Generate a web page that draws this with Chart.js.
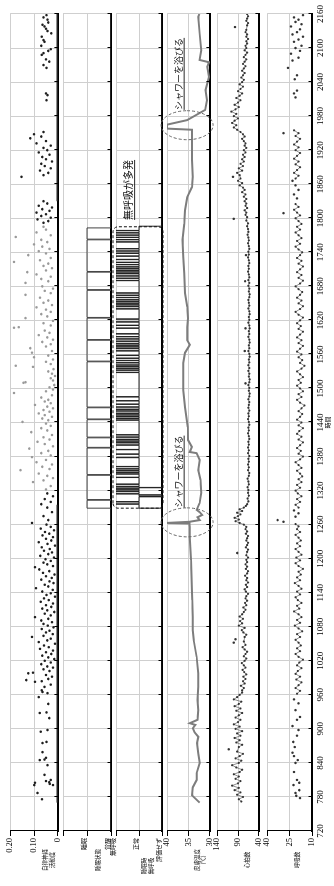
<!DOCTYPE html>
<html>
<head>
<meta charset="utf-8">
<script src="https://cdn.jsdelivr.net/npm/chart.js@4.4.1/dist/chart.umd.min.js"></script>
<style>
html,body{margin:0;padding:0;background:#fff;width:334px;height:886px;overflow:hidden}
#wrap{position:absolute;left:0;top:886px;width:886px;height:334px;transform-origin:0 0;transform:rotate(-90deg)}
#wrap canvas{position:absolute;left:0}
</style>
</head>
<body>
<div id="wrap"></div>
<script>
/* ------- DATA ------- */
const timeTicks = [720,780,840,900,960,1020,1080,1140,1200,1260,1320,1380,1440,1500,1560,1620,1680,1740,1800,1860,1920,1980,2040,2100,2160];

const ansTicks = [0, 0.05, 0.1, 0.15, 0.2];
const ansLabels = ["0", "", "0.10", "", "0.20"];
const ansZero = [[770,0],[1295,0],[1296,null],[1830,0],[2160,0]];
const ansAwake = [
[776,0.067],[787,0.085],[801,0.099],[803,0.034],[806,0.036],[801,0.02],[805,0.096],[808,0.05],[810,0.03],[819,0.056],[836,0.044],[845,0.076],[846,0.056],[849,0.05],[859,0.064],[875,0.064],[877,0.048],[895,0.072],[898,0.044],[919,0.036],[928,0.076],[929,0.048],[944,0.04],
[956,0.08],[963,0.044],[965,0.064],[968,0.068],[974,0.056],[978,0.03],[983,0.096],[984,0.068],[986,0.132],[988,0.04],[992,0.025],[995,0.05],[998,0.124],[999,0.104],[1002,0.035],[1005,0.06],[1008,0.02],[1010,0.045],[1014,0.07],[1017,0.03],[1020,0.055],[1023,0.015],[1026,0.04],[1029,0.065],[1032,0.028],[1035,0.05],[1038,0.02],[1041,0.075],[1044,0.038],[1047,0.058],[1050,0.012],[1053,0.08],[1056,0.045],[1059,0.03],[1062,0.108],[1064,0.06],[1067,0.022],[1070,0.05],[1073,0.035],[1076,0.068],[1079,0.018],[1082,0.042],[1085,0.06],[1088,0.025],[1091,0.07],[1094,0.04],[1097,0.096],[1100,0.03],[1103,0.055],[1106,0.015],[1109,0.045],[1112,0.065],[1115,0.028],[1118,0.05],[1121,0.02],[1124,0.072],[1127,0.038],[1130,0.058],[1133,0.012],[1136,0.048],[1139,0.03],[1142,0.066],[1145,0.022],[1148,0.092],[1151,0.04],[1154,0.055],[1157,0.018],[1160,0.035],[1163,0.07],[1166,0.026],[1169,0.05],[1172,0.014],[1175,0.062],[1178,0.036],[1181,0.078],[1185,0.096],[1187,0.02],[1190,0.045],[1193,0.06],[1196,0.03],[1199,0.052],[1202,0.016],[1205,0.074],[1208,0.04],[1211,0.025],[1214,0.058],[1217,0.034],[1220,0.068],[1223,0.012],[1226,0.044],[1229,0.08],[1232,0.028],[1235,0.05],[1238,0.02],[1241,0.064],[1244,0.036],[1247,0.054],[1250,0.016],[1253,0.072],[1256,0.03],[1260,0.048],[1263,0.108],[1268,0.04],[1275,0.06],[1282,0.025],[1290,0.045],[1296,0.07],[1300,0.03],[1305,0.055],[1310,0.02],[1315,0.045],
[1792,0.06],[1795,0.04],[1798,0.085],[1801,0.03],[1804,0.07],[1807,0.05],[1810,0.09],[1813,0.035],[1816,0.065],[1819,0.025],[1822,0.08],[1826,0.045],[1830,0.06],[1873,0.152],[1876,0.06],[1880,0.04],[1884,0.075],[1888,0.03],[1892,0.055],[1896,0.07],[1900,0.025],[1904,0.05],[1908,0.065],[1912,0.035],[1916,0.08],[1920,0.045],[1924,0.06],[1928,0.03],[1932,0.09],[1936,0.05],[1941,0.116],[1944,0.07],[1948,0.1],[1952,0.06],
[2008,0.048],[2017,0.044],[2020,0.05],[2065,0.048],[2070,0.06],[2076,0.036],[2080,0.05],[2088,0.068],[2091,0.06],[2095,0.04],[2098,0.03],[2104,0.07],[2111,0.056],[2114,0.06],[2120,0.068],[2126,0.028],[2130,0.044],[2134,0.05],[2138,0.056],[2141,0.064],[2145,0.04],[2150,0.044],[2154,0.06],[2158,0.048]
];
const ansSleep = [
[1322,0.05],[1328,0.03],[1335,0.104],[1338,0.06],[1342,0.02],[1346,0.045],[1350,0.08],[1356,0.156],[1358,0.035],[1362,0.065],[1366,0.025],[1370,0.09],[1374,0.05],[1379,0.108],[1382,0.03],[1386,0.07],[1390,0.04],[1394,0.12],[1398,0.02],[1402,0.055],[1406,0.085],[1410,0.035],[1414,0.06],[1418,0.025],[1423,0.112],[1426,0.045],[1430,0.07],[1434,0.03],[1438,0.05],[1441,0.148],[1444,0.04],[1447,0.065],[1450,0.025],[1453,0.055],[1456,0.08],[1459,0.035],[1462,0.06],[1465,0.02],[1468,0.045],[1471,0.096],[1474,0.03],[1477,0.055],[1480,0.04],[1484,0.07],[1488,0.025],[1492,0.184],[1495,0.05],[1498,0.02],[1502,0.035],[1506,0.015],[1510,0.144],[1511,0.136],[1514,0.02],[1518,0.03],[1522,0.012],[1526,0.025],[1530,0.04],[1534,0.018],[1538,0.104],[1540,0.176],[1543,0.03],[1547,0.05],[1551,0.02],[1555,0.1],[1558,0.04],[1563,0.108],[1566,0.025],[1571,0.116],[1574,0.05],[1578,0.03],[1582,0.065],[1586,0.02],[1590,0.045],[1594,0.08],[1598,0.035],[1602,0.055],[1607,0.184],[1608,0.164],[1611,0.03],[1615,0.06],[1619,0.02],[1624,0.136],[1627,0.045],[1631,0.07],[1635,0.03],[1639,0.05],[1643,0.09],[1647,0.025],[1651,0.06],[1655,0.04],[1660,0.075],[1665,0.136],[1668,0.03],[1672,0.055],[1676,0.02],[1680,0.065],[1686,0.136],[1689,0.04],[1693,0.07],[1697,0.03],[1701,0.09],[1705,0.128],[1708,0.05],[1712,0.025],[1716,0.06],[1720,0.04],[1723,0.184],[1726,0.075],[1730,0.03],[1735,0.124],[1738,0.05],[1742,0.08],[1746,0.035],[1750,0.065],[1754,0.1],[1758,0.045],[1762,0.07],[1767,0.176],[1770,0.03],[1775,0.09],[1780,0.05],[1785,0.06]
];

const sleepTicks = [0, 1, 2];
const sleepLabels = ["覚醒", "睡眠", ""];
const sleepStart = 1289, sleepStop = 1783;
const wakeTimes = [1303,1347,1395,1413,1445,1466,1547,1585,1624,1673,1705,1762];

const apneaTicks = [0, 1, 2];
const apneaLabels = ["評価せず", "正常", "無呼吸"];
const apneaStart = 1289, apneaStop = 1786;
const apneaTimes = [1296,1300,1314,1318,1321,1324,1327,1331,1343,1349,1352,1355,1358,1362,1378,1384,1392,1400,1404,1407,1410,1414,1418,1444,1447,1450,1453,1456,1460,1463,1467,1472,1478,1485,1528,1532,1535,1538,1541,1545,1549,1553,1558,1566,1570,1573,1576,1579,1583,1587,1591,1596,1606,1611,1617,1622,1640,1644,1647,1650,1653,1656,1660,1664,1668,1690,1694,1698,1702,1705,1708,1711,1714,1718,1722,1727,1733,1738,1742,1746,1758,1762,1766,1770,1774,1778];
const unratedTimes = [1309,1312,1325];

const tempTicks = [30, 35, 40];
const tempLabels = ["30", "35", "40"];
const skinTemp = [[770,32.4],[783,34.2],[797,34.0],[810,33.1],[822,33.1],[840,32.4],[857,32.7],[875,33.0],[886,32.7],[894,33.6],[901,34.0],[907,33.4],[910,34.7],[916,32.9],[933,32.7],[951,32.9],[974,32.7],[998,32.7],[1027,33.1],[1057,33.8],[1074,34.0],[1097,34.0],[1127,34.1],[1140,34.2],[1170,34.3],[1198,34.4],[1238,34.7],[1256,34.7],[1262,34.8],[1263,40],[1264,40],[1265,34.8],[1268,32.4],[1273,32.9],[1277,31.8],[1282,32.4],[1286,33.1],[1298,32.4],[1316,32.0],[1339,32.2],[1356,32.7],[1374,32.4],[1386,33.1],[1388,34.7],[1397,34.2],[1409,35.1],[1432,35.2],[1467,35.8],[1497,36.2],[1527,36.2],[1545,36.2],[1563,35.8],[1577,34.7],[1585,35.3],[1608,35.3],[1624,35.1],[1644,35.3],[1668,35.8],[1703,36.0],[1732,36.2],[1762,36.4],[1790,36.0],[1814,35.8],[1837,35.3],[1855,34.2],[1873,34.0],[1903,34.2],[1933,34.2],[1956,34.2],[1958,40],[1965,40],[1973,35.3],[1991,31.1],[2008,30.7],[2026,31.0],[2049,30.2],[2067,30.6],[2075,30.2],[2079,32.4],[2096,32.0],[2126,32.4],[2155,32.7],[2160,32.5]];

const hrTicks = [40, 90, 140];
const hrLabels = ["40", "90", "140"];
const heartRate = [
[772,82],[776,88],[780,78],[784,92],[788,84],[792,98],[796,88],[800,104],[804,90],[808,84],[812,96],[816,88],[820,100],[824,86],[828,80],[832,94],[836,104],[840,88],[844,82],[848,96],[852,86],[856,78],[860,92],[868,88],[872,80],[876,94],[880,86],[884,98],[888,84],[892,92],[896,80],[900,96],[904,86],[908,100],[912,90],[916,84],[920,96],[924,88],[928,80],[932,94],[936,84],[940,98],[944,88],[948,82],[952,100],[956,92],[960,86],[964,80],
[968,80],[972,76],[976,83],[980,74],[984,78],[988,72],[992,77],[996,70],[1000,75],[1004,79],[1008,72],[1012,76],[1016,81],[1020,74],[1024,70],[1028,76],[1032,72],[1036,68],[1040,74],[1044,79],[1048,72],[1054,76],[1062,74],[1066,70],[1070,77],[1074,81],[1078,74],[1082,88],[1086,80],[1090,85],[1094,78],[1098,86],[1102,80],[1106,76],[1110,72],[1114,77],[1118,70],[1122,73],[1126,68],[1130,72],[1134,70],[1138,66],[1142,71],[1146,74],[1150,68],[1154,71],[1158,66],[1162,70],[1166,68],[1170,73],[1174,68],[1178,66],[1182,71],[1186,68],[1190,72],[1194,68],[1198,70],[1202,66],[1206,70],[1212,68],[1216,66],[1220,71],[1224,68],[1228,66],[1232,70],[1236,68],[1240,66],[1244,71],[1248,68],[1252,72],[1256,70],[1260,76],
[1263,86],[1266,96],[1269,88],[1272,98],[1275,90],[1278,84],[1281,92],[1284,80],[1287,86],[1290,76],[1293,71],
[1296,68],[1301,65],[1306,67],[1311,64],[1316,66],[1321,65],[1326,67],[1331,64],[1336,65],[1341,67],[1346,64],[1351,63],[1356,66],[1361,64],[1366,66],[1371,64],[1376,65],[1381,63],[1386,66],[1391,64],[1396,66],[1401,64],[1406,65],[1411,63],[1416,64],[1421,66],[1426,64],[1431,65],[1436,63],[1441,64],[1446,66],[1451,64],[1456,65],[1461,63],[1466,65],[1471,64],[1476,63],[1481,65],[1486,63],[1491,62],[1496,64],[1501,63],[1506,65],[1511,63],[1516,62],[1521,64],[1526,63],[1531,65],[1536,63],[1541,65],[1546,63],[1551,64],[1556,62],[1561,63],[1566,65],[1571,63],[1576,64],[1581,62],[1586,63],[1591,65],[1596,63],[1601,64],[1606,62],[1611,63],[1616,65],[1621,63],[1626,64],[1631,62],[1636,63],[1641,65],[1646,63],[1651,64],[1656,65],[1661,63],[1666,62],[1671,64],[1676,63],[1681,65],[1686,63],[1691,65],[1696,63],[1701,64],[1706,66],[1711,64],[1716,65],[1721,63],[1726,64],[1731,66],[1736,64],[1741,65],[1746,63],[1751,64],[1756,66],[1761,64],[1766,65],[1771,67],[1776,65],[1781,66],[1786,68],[1791,66],
[1796,70],[1802,68],[1806,72],[1810,70],[1814,74],[1818,68],[1822,72],[1826,70],[1830,74],[1834,70],[1838,76],[1842,72],[1846,80],[1850,74],[1854,78],[1858,86],[1862,80],[1866,90],[1870,84],[1876,86],[1880,92],[1884,80],[1888,88],[1892,78],[1896,84],[1900,76],[1904,80],[1908,74],[1912,78],[1916,72],[1920,76],[1924,70],[1928,74],[1932,72],[1936,76],[1940,80],[1944,74],[1948,78],[1952,84],[1956,92],[1960,100],[1964,94],[1968,104],[1972,98],[1976,90],[1980,100],[1984,94],[1988,106],[1992,96],[1996,88],[2000,98],[2004,90],[2008,84],[2012,94],[2016,86],[2020,80],[2024,90],[2028,84],[2032,78],[2036,86],[2040,80],[2044,76],[2048,82],[2052,78],[2056,74],[2060,80],[2064,76],[2068,72],[2072,78],[2076,74],[2080,70],[2084,76],[2088,72],[2092,68],[2096,74],[2100,70],[2104,72],[2108,68],[2112,70],[2116,66],[2120,70],[2124,68],[2128,72],[2132,70],[2140,68],[2144,66],[2148,70],[2152,68],[2156,66],[2160,68]
];
const heartOutliers = [[864,112],[1052,100],[1058,96],[1210,92],[1509,72],[1566,74],[1606,72],[1689,73],[1735,71],[1799,100],[1873,102],[2137,97]];

const rrTicks = [10, 25, 40];
const rrLabels = ["10", "25", "40"];
const respLine = [
[962,20],[967,18],[972,21],[977,19],[982,17],[987,20.5],[992,18],[997,21],[1002,19.5],[1007,17],[1012,20],[1017,18.5],[1022,16],[1027,19],[1032,21],[1037,18],[1042,20],[1047,17.5],[1052,19],[1057,21],[1062,18],[1067,20],[1072,16.5],[1077,19],[1082,21.5],[1087,18],[1092,20],[1097,17],[1102,19],[1107,22],[1112,18.5],[1117,20],[1122,17],[1127,19.5],[1132,21],[1137,18],[1142,20],[1147,17],[1152,19],[1157,21.5],[1162,18],[1167,20],[1172,17.5],[1177,19],[1182,16],[1187,19],[1192,21],[1197,18],[1202,20.5],[1207,17],[1212,19],[1217,21],[1222,18],[1227,20],[1232,17.5],[1237,19],[1242,21],[1247,18],[1252,20],[1257,19],[1261,21],[1262,null],
[1290,19],[1295,21],[1300,18],[1305,20],[1310,17],[1315,19.5],[1320,21],[1325,18],[1330,20],[1335,17],[1340,19],[1345,16.5],[1350,18],[1355,20],[1360,17],[1365,19],[1370,21],[1375,18],[1380,16],[1385,19],[1390,17.5],[1395,20],[1400,18],[1405,16],[1410,19],[1415,17],[1420,20],[1425,18.5],[1430,16],[1435,19],[1440,17],[1445,20],[1450,18],[1455,16.5],[1460,19],[1465,17],[1470,15],[1475,18],[1480,20],[1485,17],[1490,19],[1495,16],[1500,18],[1505,20],[1510,17.5],[1515,19],[1520,16],[1525,18],[1530,20],[1535,17],[1540,15],[1545,18],[1550,16.5],[1555,19],[1560,17],[1565,20],[1570,18],[1575,16],[1580,19],[1585,17],[1590,20],[1595,18],[1600,16],[1605,19],[1610,17.5],[1615,20],[1620,18],[1625,16],[1630,19],[1635,21],[1640,18],[1645,16],[1650,19],[1655,17],[1660,20],[1665,18],[1670,16.5],[1675,19],[1680,21],[1685,18],[1690,16],[1695,19],[1700,17],[1705,20],[1710,18],[1715,16],[1720,19],[1725,17],[1730,20],[1735,18],[1740,16.5],[1745,19],[1750,21],[1755,18],[1760,20],[1765,17],[1770,19],[1775,21],[1780,18],[1785,20],[1790,17],[1795,19],[1800,21],[1805,18],[1810,20],[1815,22],[1820,19],[1825,21],[1830,null],
[1870,21],[1875,19],[1880,22],[1885,20],[1890,18],[1895,21],[1900,19],[1905,22],[1910,20],[1915,18],[1920,21],[1925,19],[1930,22],[1935,20],[1940,18],[1945,21],[1950,19],[1955,22]
];
const respDots = [
[778,18],[782,20.5],[787,21],[792,18.5],[801,22.4],[805,18.5],[810,20],[824,22],[840,21],[845,19.5],[852,22],[858,23],[868,21.5],[877,22.5],[888,20],[898,19],[905,23],[916,20],[921,18],[933,21],[945,19],[952,22],
[1265,29],[1268,33],[1274,21],[1280,19],[1285,22],[1809,29],[1835,20],[1842,22],[1850,19],[1858,21],[1866,23],[1950,29],[2065,26],
[2013,21],[2020,22],[2025,20],[2045,21.5],[2052,20],[2078,23],[2083,19],[2090,24],[2095,18],[2100,21],[2104,17],[2111,22],[2115,19],[2120,16],[2124,23],[2128,20],[2133,18],[2138,24],[2142,17],[2146,21],[2150,19],[2154,22],[2158,16]
];

/* ------- LAYOUT ------- */
const SERIF = '"Liberation Serif", "DejaVu Serif", serif';
const CJK = '"Noto Sans CJK JP", "Noto Sans", sans-serif';
const GRID = "#cfcfcf";
const PAD = 6;
const W = 886;
const panelTops = [9, 63, 116, 166, 216, 266];
const panelHeights = [50, 48, 46, 45, 44, 46];
const yTitles = [["自律神経","活動度"], ["睡眠状態"], ["睡眠時","無呼吸"], ["皮膚温度","(℃)"], ["心拍数"], ["呼吸数"]];
const titleRows = [[45,51.5], [97.5], [144,150.5], [197,203], [247], [297]];
const titleX = [26, 26, 20, 26, 26, 26];

Chart.defaults.font.family = SERIF;
Chart.defaults.color = "#000";

const wrap = document.getElementById("wrap");

function makeCanvas(i){
  const c = document.createElement("canvas");
  c.width = W;
  c.height = panelHeights[i] + PAD + (i === 5 ? 22 : PAD);
  c.style.width = W + "px";
  c.style.height = c.height + "px";
  c.style.top = (panelTops[i] - PAD) + "px";
  wrap.appendChild(c);
  return c;
}

/* ------- PLUGINS ------- */
const innerTicks = {
  id: "innerTicks",
  afterDraw(chart){
    const {ctx, chartArea: a, scales: {x}} = chart;
    ctx.save();
    ctx.strokeStyle = "#000";
    ctx.lineWidth = 1;
    x.ticks.forEach(t => {
      const px = Math.round(x.getPixelForValue(t.value)) + 0.5;
      ctx.beginPath(); ctx.moveTo(px, a.bottom); ctx.lineTo(px, a.bottom - 3.5); ctx.stroke();
    });
    ctx.restore();
  }
};

function axisTitle(i){
  return {
    id: "axisTitle" + i,
    afterDraw(chart){
      const ctx = chart.ctx;
      ctx.save();
      ctx.font = "5.5px " + CJK;
      ctx.fillStyle = "#000";
      ctx.textAlign = "center";
      ctx.textBaseline = "middle";
      yTitles[i].forEach((s, k) => ctx.fillText(s, titleX[i], titleRows[i][k] - panelTops[i] + PAD));
      ctx.restore();
    }
  };
}

function noteText(ctx, text, x, y, size){
  ctx.font = size + "px " + CJK;
  ctx.fillStyle = "#111";
  ctx.textAlign = "left";
  ctx.textBaseline = "middle";
  ctx.fillText(text, x, y);
  const w = ctx.measureText(text).width;
  ctx.fillRect(x, y + size * 0.62, w, 0.9);
}

function roundBox(ctx, x, y, w, h, r){
  ctx.beginPath();
  ctx.moveTo(x + r, y);
  ctx.arcTo(x + w, y, x + w, y + h, r);
  ctx.arcTo(x + w, y + h, x, y + h, r);
  ctx.arcTo(x, y + h, x, y, r);
  ctx.arcTo(x, y, x + w, y, r);
  ctx.closePath();
}

const apneaNote = {
  id: "apneaNote",
  afterDraw(chart){
    const {ctx, scales: {x, y}} = chart;
    const x0 = x.getPixelForValue(apneaStart), x1 = x.getPixelForValue(apneaStop - 1);
    const y0 = y.getPixelForValue(2) - 3, y1 = y.getPixelForValue(0) + 1;
    ctx.save();
    ctx.setLineDash([3, 2]);
    ctx.strokeStyle = "#111";
    ctx.lineWidth = 1;
    roundBox(ctx, x0, y0, x1 - x0, y1 - y0, 5);
    ctx.stroke();
    ctx.setLineDash([]);
    noteText(ctx, "無呼吸が多発", x.getPixelForValue(1797), y.getPixelForValue(2) + 12, 10);
    ctx.restore();
  }
};

const showerNote = {
  id: "showerNote",
  afterDraw(chart){
    const {ctx, scales: {x, y}} = chart;
    const top = y.getPixelForValue(40);
    ctx.save();
    [[1264, 1290], [1964, 1991]].forEach(([c, s]) => {
      ctx.setLineDash([3, 2]);
      ctx.strokeStyle = "#666";
      ctx.lineWidth = 1;
      ctx.beginPath();
      ctx.ellipse(x.getPixelForValue(c), top + 20, 14.5, 26, 0, 0, Math.PI * 2);
      ctx.stroke();
      ctx.setLineDash([]);
      noteText(ctx, "シャワーを浴びる", x.getPixelForValue(s), top + 11, 9);
    });
    ctx.restore();
  }
};

/* ------- PANEL ------- */
function yAxis(min, max, values, labels, cjk){
  return {
    min, max,
    afterBuildTicks: s => { s.ticks = values.map(v => ({value: v})); },
    ticks: {
      callback: (v, k) => labels[k], padding: 2, labelOffset: cjk ? -3 : 0,
      font: cjk ? {family: CJK, size: 6} : {size: 8.5}
    },
    grid: {color: GRID, tickColor: "#000", tickLength: 5},
    border: {color: "#000", width: 1},
    afterFit: s => { s.width = 55; }
  };
}

function panel(i, y, datasets, extra){
  const last = i === 5;
  return new Chart(makeCanvas(i), {
    type: "line",
    data: {datasets},
    options: {
      responsive: false, animation: false, events: [],
      layout: {padding: {top: PAD, bottom: last ? 0 : PAD, left: 0, right: 14}},
      plugins: {legend: {display: false}, tooltip: {enabled: false}},
      scales: {
        x: {
          type: "linear", min: 720, max: 2160,
          afterBuildTicks: s => { s.ticks = timeTicks.map(v => ({value: v})); },
          ticks: {display: last, autoSkip: false, maxRotation: 0, padding: 3, font: {size: 9},
                  callback: v => String(v)},
          grid: {color: GRID, drawTicks: false},
          border: {color: "#000", width: 2},
          title: {display: last, text: "時間", font: {family: CJK, size: 6}, padding: {top: 0, bottom: 2.4}},
          afterFit: s => { s.height = last ? 22 : 0; }
        },
        y
      }
    },
    plugins: [innerTicks, axisTitle(i)].concat(extra || [])
  });
}

function dots(data, color, r){
  return {data, showLine: false, pointRadius: r, pointBorderWidth: 0, pointBackgroundColor: color};
}

function steps(start, stop, events, base, level, len){
  const pts = [];
  events.forEach(e => { pts.push([e[0], e[1]], [e[0] + len, level]); });
  pts.sort((a, b) => a[0] - b[0]);
  return [[720, base], [start, level]].concat(pts, [[stop, base], [2160, base]]);
}

/* ------- CHARTS ------- */
panel(0, yAxis(0, 0.2, ansTicks, ansLabels, false), [
  {data: ansZero, borderColor: "#222", borderWidth: 3, pointRadius: 0, spanGaps: false},
  dots(ansAwake, "#1e1e1e", 1.25),
  dots(ansSleep, "#9a9a9a", 1.25)
]);

panel(1, yAxis(0, 2, sleepTicks, sleepLabels, true), [
  {data: steps(sleepStart, sleepStop, wakeTimes.map(t => [t, 0]), 0, 1, 1.2),
   stepped: true, borderColor: "#444", borderWidth: 1, pointRadius: 0}
]);

panel(2, yAxis(0, 2, apneaTicks, apneaLabels, true), [
  {data: steps(apneaStart, apneaStop, apneaTimes.map(t => [t, 2]).concat(unratedTimes.map(t => [t, 0])), 0, 1, 0.6),
   stepped: true, borderColor: "#222", borderWidth: 1, pointRadius: 0}
], [apneaNote]);

panel(3, yAxis(30, 40, tempTicks, tempLabels, false), [
  {data: skinTemp, borderColor: "#7d7d7d", borderWidth: 2, pointRadius: 0}
], [showerNote]);

panel(4, yAxis(40, 140, hrTicks, hrLabels, false), [
  {data: heartRate, borderColor: "#707070", borderWidth: 0.8, pointRadius: 1.1, pointBorderWidth: 0, pointBackgroundColor: "#333"},
  dots(heartOutliers, "#333", 1.2)
]);

panel(5, yAxis(10, 40, rrTicks, rrLabels, false), [
  {data: respLine, borderColor: "#707070", borderWidth: 0.8, pointRadius: 1.1, pointBorderWidth: 0, pointBackgroundColor: "#333", spanGaps: false},
  dots(respDots, "#333", 1.2)
]);
</script>
</body>
</html>
